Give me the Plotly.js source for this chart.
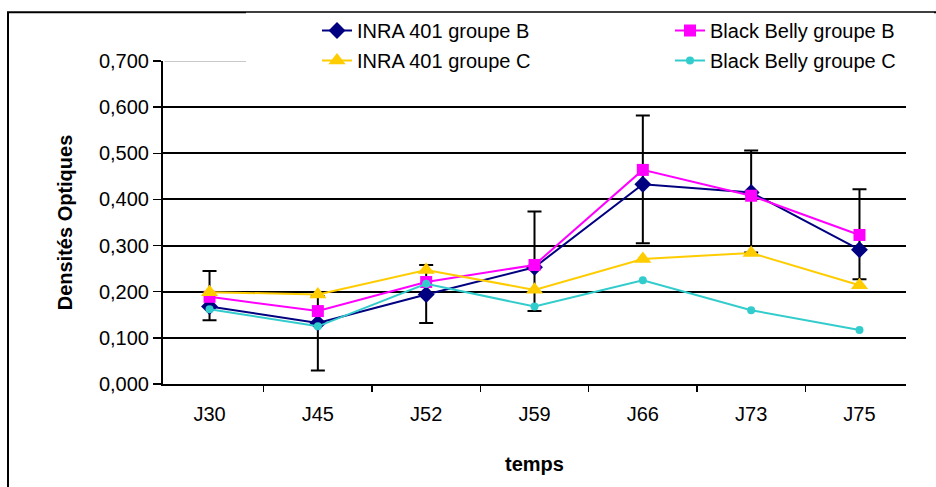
<!DOCTYPE html>
<html>
<head>
<meta charset="utf-8">
<script src="https://cdn.plot.ly/plotly-3.0.1.min.js"></script>
<style>html,body{margin:0;padding:0;background:#fff;}#chart{width:936px;height:487px;}</style>
</head>
<body>
<div id="chart"></div>
<script>
const categories = ["J30", "J45", "J52", "J59", "J66", "J73", "J75"];
const inraB = [0.168, 0.132, 0.194, 0.253, 0.433, 0.415, 0.291];
const blackBellyB = [0.189, 0.158, 0.221, 0.258, 0.464, 0.408, 0.323];
const inraC = [0.199, 0.194, 0.247, 0.204, 0.271, 0.284, 0.214];
const blackBellyC = [0.162, 0.125, 0.217, 0.168, 0.225, 0.160, 0.117];
const errPlus = [0.077, 0.058, 0.064, 0.121, 0.149, 0.091, 0.131];
const errMinus = [0.030, 0.103, 0.062, 0.095, 0.128, 0.130, 0.064];
const yTickVals = [0, 0.1, 0.2, 0.3, 0.4, 0.5, 0.6, 0.7];

const font = "Liberation Sans, Arial, sans-serif";
const W = 936, H = 487, L = 163, R = 30, T = 60, B = 103;
const pw = W - L - R, ph = H - T - B;
const px2x = p => (p - L) / pw;
const px2y = p => (H - B - p) / ph;

const traces = [
  {name: "INRA 401 groupe B", legend: "legend", legendgroup: "a", x: categories, y: inraB, type: "scatter", mode: "lines+markers",
   line: {color: "#000080", width: 2}, marker: {symbol: "diamond", size: 13, color: "#000080"},
   error_y: {type: "data", symmetric: false, array: errPlus, arrayminus: errMinus, color: "#000000", thickness: 2, width: 7}},
  {name: "Black Belly groupe B", legend: "legend2", legendgroup: "b", x: categories, y: blackBellyB, type: "scatter", mode: "lines+markers",
   line: {color: "#FF00FF", width: 2}, marker: {symbol: "square", size: 12, color: "#FF00FF"}},
  {name: "INRA 401 groupe C", legend: "legend", legendgroup: "c", x: categories, y: inraC, type: "scatter", mode: "lines+markers",
   line: {color: "#FFCC00", width: 2}, marker: {symbol: "triangle-up", size: 15, color: "#FFCC00"}},
  {name: "Black Belly groupe C", legend: "legend2", legendgroup: "d", x: categories, y: blackBellyC, type: "scatter", mode: "lines+markers",
   line: {color: "#33CCCC", width: 2}, marker: {symbol: "circle", size: 8, color: "#33CCCC"}}
];

const legendBase = {orientation: "v", xanchor: "left", yanchor: "top", bgcolor: "rgba(0,0,0,0)",
  borderwidth: 0, traceorder: "grouped", tracegroupgap: 1,
  font: {family: font, size: 20, color: "#000"}};

const layout = {
  width: W, height: H,
  margin: {l: L, r: R, t: T, b: B},
  paper_bgcolor: "#ffffff", plot_bgcolor: "#ffffff",
  separators: ", ",
  font: {family: font, size: 20, color: "#000"},
  showlegend: true,
  legend: Object.assign({}, legendBase, {x: px2x(317), y: px2y(11)}),
  legend2: Object.assign({}, legendBase, {x: px2x(670), y: px2y(11)}),
  xaxis: {type: "category", showline: true, linecolor: "#000", linewidth: 2,
    ticks: "outside", ticklen: 6, tickwidth: 1.5, tickcolor: "#000", tickson: "boundaries",
    ticklabelstandoff: 11,
    showgrid: false, zeroline: false,
    tickfont: {family: font, size: 20},
    title: {text: "<b>temps</b>", font: {family: font, size: 20}, standoff: 33}},
  yaxis: {range: [0, 0.7], tickvals: yTickVals, tickformat: ".3f",
    showline: true, linecolor: "#000", linewidth: 2,
    ticks: "outside", ticklen: 8, tickwidth: 1.5, tickcolor: "#000",
    showgrid: true, gridcolor: "#000", gridwidth: 2, zeroline: false,
    tickfont: {family: font, size: 20},
    title: {text: "<b>Densités Optiques</b>", font: {family: font, size: 20}, standoff: 21}},
  shapes: [
    {type: "line", xref: "paper", yref: "y", x0: 0.002, x1: 1, y0: 0.7, y1: 0.7,
     line: {color: "#c8c8c8", width: 2}, layer: "above"},
    {type: "rect", xref: "paper", yref: "paper",
     x0: px2x(8), x1: 1.2, y0: -0.5, y1: px2y(11),
     line: {color: "#000", width: 2}, fillcolor: "rgba(0,0,0,0)", layer: "below"},
    {type: "rect", xref: "paper", yref: "paper",
     x0: px2x(246), x1: px2x(934), y0: px2y(76), y1: px2y(11.5),
     line: {width: 0}, fillcolor: "#ffffff", layer: "above"}
  ]
};

Plotly.newPlot("chart", traces, layout, {displayModeBar: false, staticPlot: true});
</script>
</body>
</html>
